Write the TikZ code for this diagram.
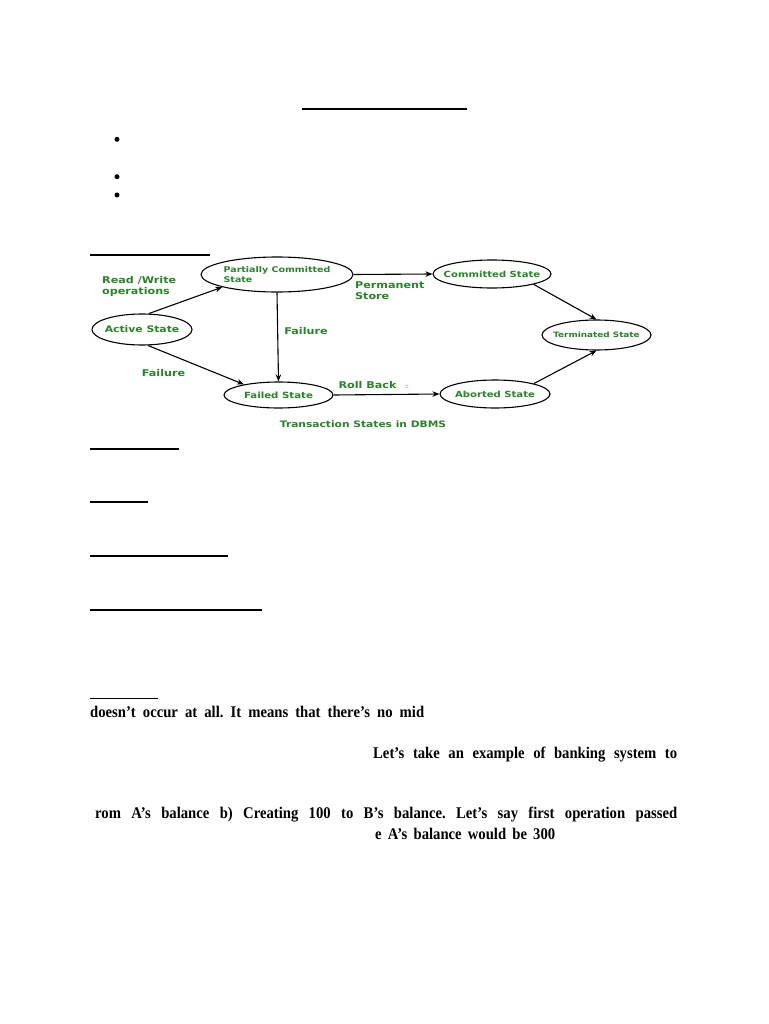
\documentclass[tikz,border=0pt]{standalone}
\usepackage{fontspec}
\setmainfont{Liberation Serif}
\newfontfamily\bodyfont[FakeStretch=0.9]{Liberation Serif}
\newfontfamily\dgfont[FakeStretch=1.2]{DejaVu Sans}
\usetikzlibrary{shapes.geometric,arrows.meta}
\definecolor{dgreen}{RGB}{36,135,36}
\definecolor{dotorange}{RGB}{230,150,110}
\newcommand{\dgf}[2]{\dgfont\bfseries\fontsize{#1}{#2}\selectfont}
\frenchspacing
\begin{document}
\begin{tikzpicture}[x=1pt,y=-1pt,
  st/.style={draw, ellipse, line width=1.1pt, inner sep=0pt},
  stt/.style={text=dgreen, inner sep=0pt, align=left},
  lbl/.style={font=\dgf{9.3}{11}, text=dgreen, inner sep=0pt, align=left},
  arr/.style={-{Stealth[length=7pt,width=5.5pt]}, line width=1.1pt},
  uline/.style={line width=1.4pt},
  body/.style={font=\bodyfont\bfseries\fontsize{16.3}{19}\selectfont, inner sep=0pt, anchor=base west}]
\useasboundingbox[fill=white] (0,0) rectangle (768,1024);

% heading rule and bullets
\coordinate (h1) at (302,109.5);
\coordinate (h2) at (467,109.5);
\draw[line width=2pt] (h1) -- (h2);
\fill (117,139.3) circle (2.5);
\fill (117,176.7) circle (2.5);
\fill (117,195) circle (2.5);

% underlines
\foreach \y/\xe in {255/210, 449/179, 502/148, 556/228, 610/262, 698.5/158}{
  \draw[uline] (90,\y) -- (\xe,\y);
}

% states
\node[st, minimum width=100pt, minimum height=31pt,
  label={[stt,font=\dgf{9}{10}]center:Active State}] (act) at (142,329.5) {};
\node[st, minimum width=152pt, minimum height=35pt,
  label={[stt,font=\dgf{7.9}{9.2}]center:Partially Committed\\State}] (pc) at (277,274.5) {};
\node[st, minimum width=109pt, minimum height=26pt,
  label={[stt,font=\dgf{8.5}{10}]center:Failed State}] (fail) at (278.5,395) {};
\node[st, minimum width=118pt, minimum height=28pt,
  label={[stt,font=\dgf{8.4}{10}]center:Committed State}] (comm) at (492,274) {};
\node[st, minimum width=109pt, minimum height=30pt,
  label={[stt,font=\dgf{7.4}{9}]center:Terminated State}] (term) at (596.5,335) {};
\node[st, minimum width=110pt, minimum height=28pt,
  label={[stt,font=\dgf{8.4}{10}]center:Aborted State}] (abort) at (495,394) {};

% transitions
\draw[arr] (act.67) -- (pc.193);
\draw[arr] (act.290) -- (fail.163);
\draw[arr] (pc.south) -- (fail.north);
\draw[arr] (pc.east) -- (comm.west);
\draw[arr] (comm.-14) -- (term.north);
\draw[arr] (abort.15) -- (term.south);
\draw[arr] (fail.east) -- (abort.west);

% edge labels
\node[lbl, anchor=west] (rw) at (102,286.5) {Read /Write\\operations};
\node[lbl, anchor=west] (ps) at (355,290.5) {Permanent\\Store};
\node[lbl] (f1) at (306,331.5) {Failure};
\node[lbl] (f2) at (163.5,373.5) {Failure};
\node[lbl] (rb) at (367.5,385) {Roll Back};
\node[font=\dgf{6}{6}, text=dotorange, inner sep=0pt] (colon) at (407,387) {:};
\node[font=\dgf{8.9}{10}, text=dgreen, inner sep=0pt] (cap) at (363,424.5) {Transaction States in DBMS};

% body text
\node[body] (t1) at (90,717) {\makebox[334pt][s]{doesn’t occur at all. It means that there’s no mid}};
\node[body] (t2) at (373,758) {\makebox[304pt][s]{Let’s take an example of banking system to}};
\node[body] (t3) at (95,818.5) {\makebox[582pt][s]{rom A’s balance b) Creating 100 to B’s balance. Let’s say first operation passed}};
\node[body] (t4) at (375,839.5) {\makebox[180pt][s]{e A’s balance would be 300}};
\end{tikzpicture}
\end{document}
